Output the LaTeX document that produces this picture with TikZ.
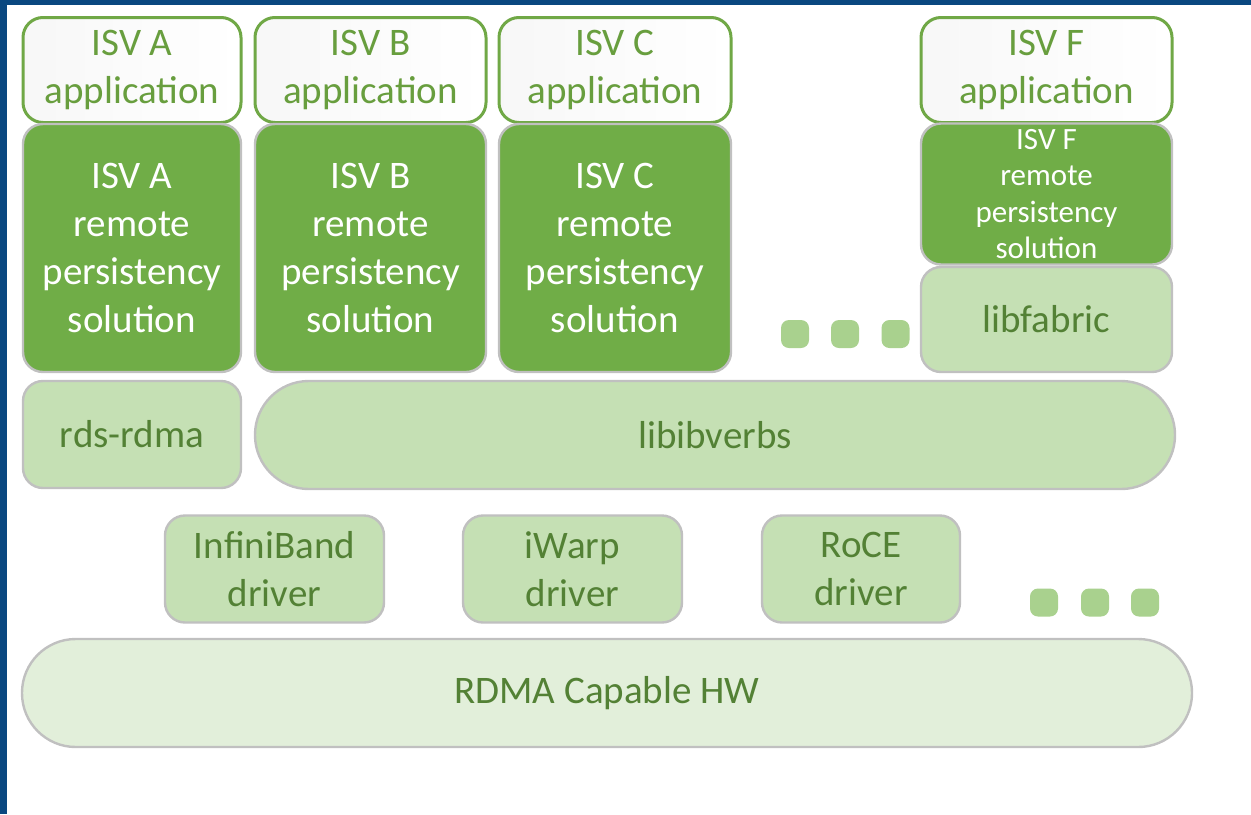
\documentclass[tikz,border=0pt]{standalone}
\usepackage{fontspec}
\setmainfont{Carlito}
\usetikzlibrary{shapes}

\definecolor{frameblue}{RGB}{10,72,128}
\definecolor{appgreen}{RGB}{112,168,70}
\definecolor{apptext}{RGB}{104,158,62}
\definecolor{darkgreen}{RGB}{112,173,71}
\definecolor{lightgreen}{RGB}{197,224,180}
\definecolor{palegreen}{RGB}{226,239,218}
\definecolor{lighttext}{RGB}{83,129,53}
\definecolor{dotgreen}{RGB}{169,209,142}
\definecolor{edgegray}{RGB}{192,192,192}

\begin{document}
\begin{tikzpicture}[x=0.5pt,y=-0.5pt]
\tikzstyle{every node}=[inner sep=0pt, align=center, font=\fontsize{19.5}{24}\selectfont];
\tikzstyle{appbox}=[draw=appgreen, line width=1.5pt, rounded corners=10pt,
  left color=black!3, right color=white, text=apptext, minimum height=52.5pt];
\tikzstyle{isvbox}=[draw=edgegray, line width=1.2pt, rounded corners=10pt,
  fill=darkgreen, text=white];
\tikzstyle{libbox}=[draw=edgegray, line width=1.2pt, rounded corners=10pt,
  fill=lightgreen, text=lighttext, minimum height=53.5pt];
\tikzstyle{moredot}=[fill=dotgreen, rounded corners=4pt, minimum size=14pt];

\useasboundingbox (0,0) rectangle (1251,814);
\fill[white] (0,0) rectangle (1251,814);
\fill[frameblue] (0,0) rectangle (1251,5);
\fill[frameblue] (0,0) rectangle (7,814);

% applications
\draw (132,70) node[appbox, minimum width=109pt] (appA) {ISV A\\application};
\draw (370.5,70) node[appbox, minimum width=115.5pt] (appB) {ISV B\\application};
\draw (615,70) node[appbox, minimum width=116pt] (appC) {ISV C\\application};
\draw (1046.5,70) node[appbox, minimum width=125.5pt] (appF) {ISV F\\application};

% remote persistency solutions
\draw (132,248) node[isvbox, minimum width=109pt, minimum height=124pt] (rpsA)
  {ISV A\\remote\\persistency\\solution};
\draw (370.5,248) node[isvbox, minimum width=115.5pt, minimum height=124pt] (rpsB)
  {ISV B\\remote\\persistency\\solution};
\draw (615,248) node[isvbox, minimum width=116pt, minimum height=124pt] (rpsC)
  {ISV C\\remote\\persistency\\solution};
\draw (1046.5,194) node[isvbox, minimum width=125.5pt, minimum height=70.5pt,
  font=\fontsize{15.5}{18.3}\selectfont] (rpsF)
  {ISV F\\remote\\persistency\\solution};

% libraries
\draw (1046.5,319.5) node[libbox, minimum width=125.5pt, minimum height=52.5pt] (fabric) {libfabric};
\draw (132,434.5) node[libbox, minimum width=109pt] (rds) {rds-rdma};
\draw (715,435) node[libbox, minimum width=460pt, minimum height=54pt,
  rounded corners=26.9pt] (verbs) {libibverbs};

% drivers
\draw (274.5,569) node[libbox, minimum width=109.5pt] (ib) {InfiniBand\\driver};
\draw (572.5,569) node[libbox, minimum width=109.5pt] (iwarp) {iWarp\\driver};
\draw (861,569) node[libbox, minimum width=99pt] (roce) {RoCE\\driver};

% hardware
\draw (607,693) node[libbox, fill=palegreen, minimum width=585pt, minimum height=54pt,
  rounded corners=26.9pt] (hw) {RDMA Capable HW};

% more
\draw (795,334) node[moredot] (dotA1) {};
\draw (845,334) node[moredot] (dotA2) {};
\draw (895.5,334) node[moredot] (dotA3) {};
\draw (1044,602.5) node[moredot] (dotB1) {};
\draw (1095,602.5) node[moredot] (dotB2) {};
\draw (1145,602.5) node[moredot] (dotB3) {};
\end{tikzpicture}
\end{document}
